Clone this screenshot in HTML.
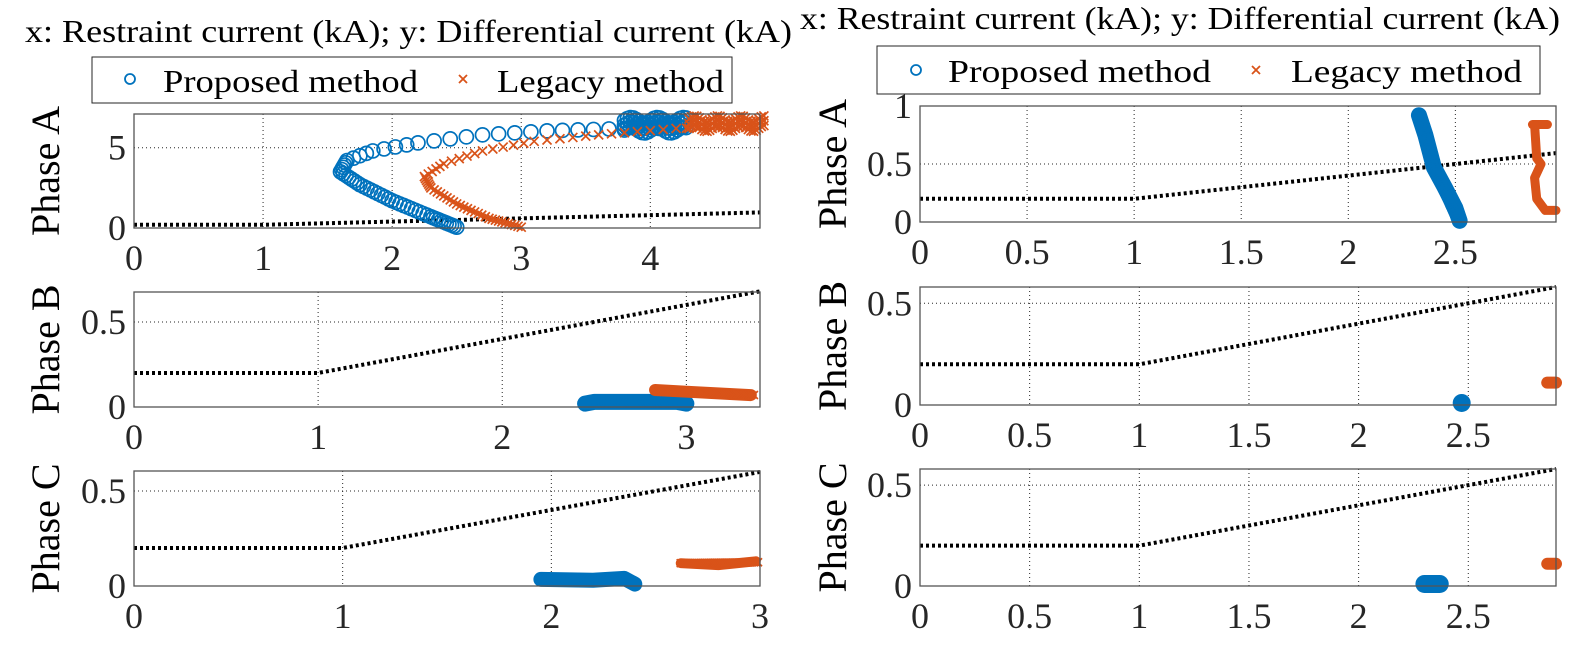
<!DOCTYPE html>
<html><head><meta charset="utf-8"><style>
html,body{margin:0;padding:0;background:#fff;}
svg{display:block;}
</style></head><body>
<svg id="s" width="1596" height="646" xmlns="http://www.w3.org/2000/svg" font-family="'Liberation Serif', serif">
<text x="25" y="42" font-size="32" fill="#000" textLength="767" lengthAdjust="spacingAndGlyphs" font-family="'Liberation Serif', serif">x: Restraint current (kA); y: Differential current (kA)</text>
<text x="800" y="29" font-size="32" fill="#000" textLength="760" lengthAdjust="spacingAndGlyphs" font-family="'Liberation Serif', serif">x: Restraint current (kA); y: Differential current (kA)</text>
<rect x="92" y="57" width="640" height="46" fill="#fff" stroke="#262626" stroke-width="1"/>
<circle cx="130" cy="79" r="5" fill="none" stroke="#0072BD" stroke-width="1.8"/>
<text x="163" y="92" font-size="32" fill="#000" textLength="255" lengthAdjust="spacingAndGlyphs" font-family="'Liberation Serif', serif">Proposed method</text>
<path d="M459 75l8 8M467 75l-8 8" stroke="#D95319" stroke-width="1.8"/>
<text x="497" y="92" font-size="32" fill="#000" textLength="227" lengthAdjust="spacingAndGlyphs" font-family="'Liberation Serif', serif">Legacy method</text>
<rect x="877" y="46" width="663" height="48" fill="#fff" stroke="#262626" stroke-width="1"/>
<circle cx="916" cy="70" r="5" fill="none" stroke="#0072BD" stroke-width="1.8"/>
<text x="948" y="82" font-size="32" fill="#000" textLength="263" lengthAdjust="spacingAndGlyphs" font-family="'Liberation Serif', serif">Proposed method</text>
<path d="M1252 66l8 8M1260 66l-8 8" stroke="#D95319" stroke-width="1.8"/>
<text x="1291" y="82" font-size="32" fill="#000" textLength="231" lengthAdjust="spacingAndGlyphs" font-family="'Liberation Serif', serif">Legacy method</text>
<g id="g"></g>
</svg>
<script>
var NS="http://www.w3.org/2000/svg",G=document.getElementById('g');
var FF="'Liberation Serif', serif";
function el(t,a,txt){var e=document.createElementNS(NS,t);for(var k in a)e.setAttribute(k,a[k]);if(txt!==undefined)e.textContent=txt;G.appendChild(e);return e;}
function fmt(v){return (Math.round(v*10)/10).toString();}
function panel(p){
 var sx=function(v){return p.x0+v/p.xmax*(p.x1-p.x0);},sy=function(v){return p.y1-v/p.ymax*(p.y1-p.y0);};
 el('rect',{x:p.x0,y:p.y0,width:p.x1-p.x0,height:p.y1-p.y0,fill:'#fff',stroke:'none'});
 p.xt.forEach(function(v){var X=sx(v);
  if(v>0)el('line',{x1:X,y1:p.y0,x2:X,y2:p.y1,stroke:'#262626','stroke-width':1,'stroke-dasharray':'1,3'});
  el('text',{x:X,y:p.y1+42,'font-size':36,'text-anchor':'middle',fill:'#262626','font-family':FF},fmt(v));});
 p.yt.forEach(function(v){var Y=sy(v);
  if(v>0)el('line',{x1:p.x0,y1:Y,x2:p.x1,y2:Y,stroke:'#262626','stroke-width':1,'stroke-dasharray':'1,3'});
  el('text',{x:p.x0-8,y:Y+12,'font-size':36,'text-anchor':'end',fill:'#262626','font-family':FF},fmt(v));});
 var cx=p.yl,cy=(p.y0+p.y1)/2;
 el('text',{x:cx,y:cy,'font-size':40,'text-anchor':'middle',fill:'#000','font-family':FF,transform:'rotate(-90 '+cx+' '+cy+')',dy:13},p.lab);
 var pts=[[0,0.2],[1,0.2],[p.xmax,0.2+0.2*(p.xmax-1)]].map(function(q){return sx(q[0])+','+sy(q[1]);}).join(' ');
 el('polyline',{points:pts,fill:'none',stroke:'#000','stroke-width':4,'stroke-dasharray':'3,3'});
 p.sx=sx;p.sy=sy;return p;}
function frame(p){el('rect',{x:p.x0,y:p.y0,width:p.x1-p.x0,height:p.y1-p.y0,fill:'none',stroke:'#555','stroke-width':1.3});}
function circ(p,x,y,r){el('circle',{cx:p.sx(x),cy:p.sy(y),r:r||7,fill:'none',stroke:'#0072BD','stroke-width':1.7});}
function cross(p,x,y,s){s=s||4.5;var X=p.sx(x),Y=p.sy(y);el('path',{d:'M'+(X-s)+' '+(Y-s)+'l'+2*s+' '+2*s+'M'+(X+s)+' '+(Y-s)+'l'+(-2*s)+' '+2*s,stroke:'#D95319','stroke-width':1.7,fill:'none'});}
function path(p,wp,counts,f,sz){for(var i=0;i<wp.length-1;i++){var n=counts[i];for(var j=0;j<n;j++){var t=j/n;f(p,wp[i][0]+(wp[i+1][0]-wp[i][0])*t,wp[i][1]+(wp[i+1][1]-wp[i][1])*t,sz);}}}
function blob(p,xa,xb,ya,yb,n,f,sz){for(var i=0;i<n;i++){var t=i/n;var x=xa+(xb-xa)*t;for(var k=0;k<3;k++){f(p,x,ya+(yb-ya)*(k/2)+0.3*(yb-ya)*Math.sin(i*0.7),sz);}}}
function thick(p,wp,w,col){el('polyline',{points:wp.map(function(q){return p.sx(q[0])+','+p.sy(q[1]);}).join(' '),fill:'none',stroke:col,'stroke-width':w,'stroke-linecap':'round','stroke-linejoin':'round'});}

var A=panel({x0:134,x1:760,y0:114,y1:228,xmax:4.85,ymax:7.1,xt:[0,1,2,3,4],yt:[0,5],yl:46,lab:'Phase A'});
path(A,[[2.5,0.05],[2.3,0.7],[2.0,1.7],[1.75,2.7],[1.6,3.5],[1.65,4.2],[1.85,4.8],[2.2,5.3],[2.7,5.8],[3.2,6.05],[3.8,6.2],[4.2,6.2]],[10,10,9,7,5,4,4,4,4,5,3],circ);
blob(A,3.8,4.3,6.1,6.7,22,circ);
path(A,[[3.0,0.05],[2.75,0.6],[2.5,1.5],[2.3,2.5],[2.25,3.2],[2.4,4.0],[2.7,4.8],[3.1,5.4],[3.6,5.8],[4.2,6.2],[4.85,6.3]],[10,9,8,6,5,5,5,5,6,8],cross);
blob(A,4.3,4.9,6.2,6.8,30,cross);
frame(A);
var B=panel({x0:134,x1:760,y0:292,y1:407,xmax:3.4,ymax:0.676,xt:[0,1,2,3],yt:[0,0.5],yl:46,lab:'Phase B'});
thick(B,[[2.45,0.02],[2.5,0.03],[2.95,0.03],[3.0,0.02]],16,'#0072BD');
path(B,[[2.5,0.03],[2.95,0.03]],[30],circ,5);
thick(B,[[2.83,0.1],[3.0,0.09],[3.35,0.07]],12,'#D95319');
path(B,[[2.85,0.09],[3.38,0.07]],[40],cross,4);
frame(B);
var C=panel({x0:134,x1:760,y0:471,y1:586,xmax:3,ymax:0.605,xt:[0,1,2,3],yt:[0,0.5],yl:46,lab:'Phase C'});
thick(C,[[1.95,0.035],[2.2,0.03],[2.35,0.04],[2.4,0.01]],15,'#0072BD');
path(C,[[1.95,0.035],[2.35,0.035]],[30],circ,5);
thick(C,[[2.62,0.12],[2.8,0.11],[2.98,0.13]],10,'#D95319');
path(C,[[2.62,0.12],[3.0,0.125]],[40],cross,4);
frame(C);
var RA=panel({x0:920,x1:1556,y0:106,y1:222,xmax:2.97,ymax:1,xt:[0,0.5,1,1.5,2,2.5],yt:[0,0.5,1],yl:833,lab:'Phase A'});
thick(RA,[[2.33,0.92],[2.36,0.75],[2.4,0.47],[2.45,0.3],[2.5,0.12],[2.52,0.01]],16,'#0072BD');
path(RA,[[2.33,0.9],[2.4,0.47],[2.51,0.02]],[25,25],circ,5);
thick(RA,[[2.86,0.84],[2.93,0.84]],9,'#D95319');
thick(RA,[[2.87,0.84],[2.88,0.55],[2.9,0.5],[2.87,0.38],[2.88,0.2],[2.92,0.1],[2.97,0.1]],9,'#D95319');
frame(RA);
var RB=panel({x0:920,x1:1556,y0:287,y1:405,xmax:2.9,ymax:0.58,xt:[0,0.5,1,1.5,2,2.5],yt:[0,0.5],yl:833,lab:'Phase B'});
el('circle',{cx:RB.sx(2.47),cy:RB.sy(0.01),r:9,fill:'#0072BD'});
thick(RB,[[2.86,0.11],[2.9,0.11]],12,'#D95319');
frame(RB);
var RC=panel({x0:920,x1:1556,y0:469,y1:586,xmax:2.9,ymax:0.58,xt:[0,0.5,1,1.5,2,2.5],yt:[0,0.5],yl:833,lab:'Phase C'});
thick(RC,[[2.3,0.01],[2.37,0.01]],18,'#0072BD');
thick(RC,[[2.86,0.11],[2.9,0.11]],12,'#D95319');
frame(RC);
</script>
</body></html>
